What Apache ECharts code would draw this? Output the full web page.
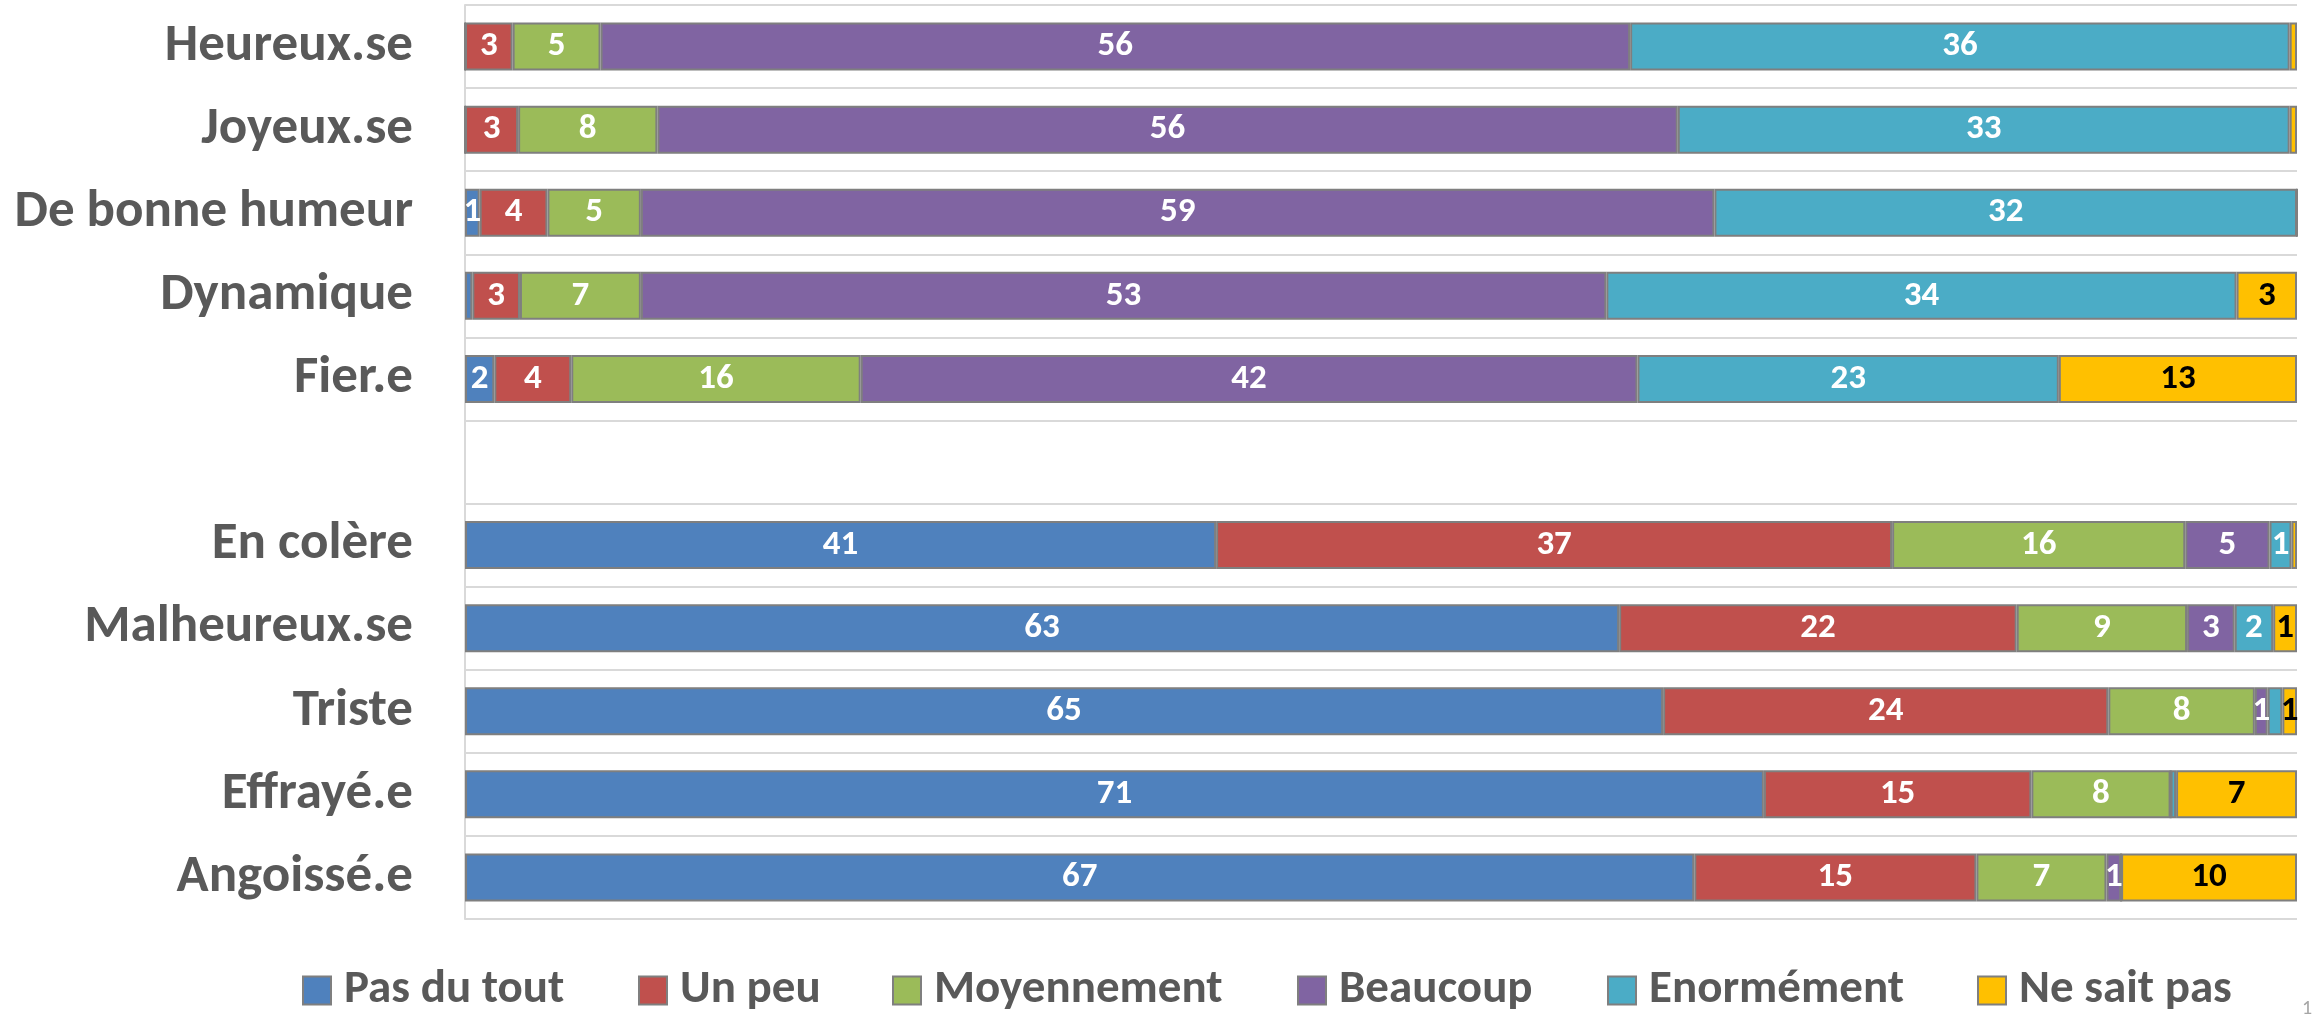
<!DOCTYPE html>
<html>
<head>
<meta charset="utf-8">
<script src="https://cdn.jsdelivr.net/npm/echarts@6/dist/echarts.min.js"></script>
<style>
  html, body { margin: 0; padding: 0; background: #fff; }
  #chart { width: 2315px; height: 1016px; }
</style>
</head>
<body>
<div id="chart"></div>
<script>
// categories, top to bottom (the empty one is the spacer row between the two groups)
const categories = ['Heureux.se', 'Joyeux.se', 'De bonne humeur', 'Dynamique', 'Fier.e', '',
  'En colère', 'Malheureux.se', 'Triste', 'Effrayé.e', 'Angoissé.e']
const seriesNames = ['Pas du tout', 'Un peu', 'Moyennement', 'Beaucoup', 'Enormément', 'Ne sait pas']

// % of answers
const pasDuTout   = [0,    0,    0.8,  0.4,  1.6,  null, 41.0, 63.0, 65.4, 70.9, 67.1]
const unPeu       = [2.6,  2.9,  3.7,  2.6,  4.2,  null, 36.9, 21.7, 24.3, 14.6, 15.4]
const moyennement = [4.8,  7.6,  5.1,  6.6,  15.8, null, 16.0, 9.3,  8.0,  7.6,  7.1]
const beaucoup    = [56.2, 55.7, 58.6, 52.7, 42.4, null, 4.6,  2.6,  0.7,  0,    0.8]
const enormement  = [36.0, 33.4, 31.8, 34.4, 23.0, null, 1.2,  2.1,  0.8,  0.3,  0]
const neSaitPas   = [0.4,  0.4,  0,    3.3,  13.0, null, 0.3,  1.3,  0.8,  6.6,  9.6]
const values = [pasDuTout, unPeu, moyennement, beaucoup, enormement, neSaitPas]

// labels that are not shown in the original
const hiddenLabels = [['Enormément', 'Triste']]

const colors = ['#4F81BD', '#C0504D', '#9BBB59', '#8064A2', '#4BACC6', '#FFC000']
const labelColors = ['#fff', '#fff', '#fff', '#fff', '#fff', '#000']
const legendX = [302, 638, 892, 1297, 1607, 1977]

// pick a narrow bold font that is actually installed (Calibri look-alike first)
const ctx = document.createElement('canvas').getContext('2d')
function hasFont(name) {
  const s = 'mmmmwwwwlllliii De bonne humeur 0123'
  return ['monospace', 'serif'].some(fb => {
    ctx.font = `72px ${fb}`
    const a = ctx.measureText(s).width
    ctx.font = `72px "${name}", ${fb}`
    return ctx.measureText(s).width !== a
  })
}
const fontName = ['Carlito', 'Liberation Sans Narrow', 'Lato', 'DejaVu Sans Condensed'].find(hasFont) || 'sans-serif'
const FONT = `"${fontName}", sans-serif`
function fitSize(text, target, maxSize) {
  ctx.font = `bold ${maxSize}px ${FONT}`
  const w = ctx.measureText(text).width
  return Math.min(maxSize, Math.floor(maxSize * target / w))
}
const catSize = fitSize('De bonne humeur', 400, 56)
const legendSize = fitSize('Pas du tout', 224, 48)
const valueSize = fitSize('22', 36, 38)

const chart = echarts.init(document.getElementById('chart'))
chart.setOption({
  backgroundColor: '#fff',
  animation: false,
  grid: { left: 465, right: 18, top: 5, bottom: 97 },
  xAxis: { type: 'value', min: 0, max: 100, show: false },
  yAxis: {
    type: 'category',
    data: categories,
    inverse: true,
    axisLine: { show: true, lineStyle: { color: '#d9d9d9', width: 2 } },
    axisTick: { show: false },
    axisLabel: {
      margin: 52,
      color: '#595959',
      fontSize: catSize,
      fontWeight: 'bold',
      fontFamily: FONT,
    },
    splitLine: { show: true, lineStyle: { color: '#d9d9d9', width: 2 } },
  },
  legend: seriesNames.map((name, i) => ({
    data: [name],
    left: legendX[i],
    top: 996 - Math.round(legendSize * 0.62),
    padding: 0,
    icon: 'rect',
    itemWidth: 28,
    itemHeight: 28,
    selectedMode: false,
    textStyle: {
      color: '#595959',
      fontSize: legendSize,
      fontWeight: 'bold',
      fontFamily: FONT,
      padding: [0, 0, 0, 8],
    },
  })),
  graphic: [{
    type: 'text', left: 2302, top: 999,
    style: { text: '1', fill: '#a6a6a6', fontSize: 20, fontFamily: FONT },
  }],
  series: seriesNames.map((name, i) => ({
    name,
    type: 'bar',
    stack: 'total',
    barWidth: 48,
    data: values[i],
    itemStyle: { color: colors[i], borderColor: '#7f7f7f', borderWidth: 2 },
    emphasis: { disabled: true },
    label: {
      show: true,
      position: 'inside',
      color: labelColors[i],
      fontSize: valueSize,
      fontWeight: 'bold',
      fontFamily: FONT,
      formatter: p => {
        if (p.value == null || p.value < 0.5) return ''
        if (hiddenLabels.some(h => h[0] === name && h[1] === p.name)) return ''
        return String(Math.round(p.value))
      },
    },
  })),
})
</script>
</body>
</html>
